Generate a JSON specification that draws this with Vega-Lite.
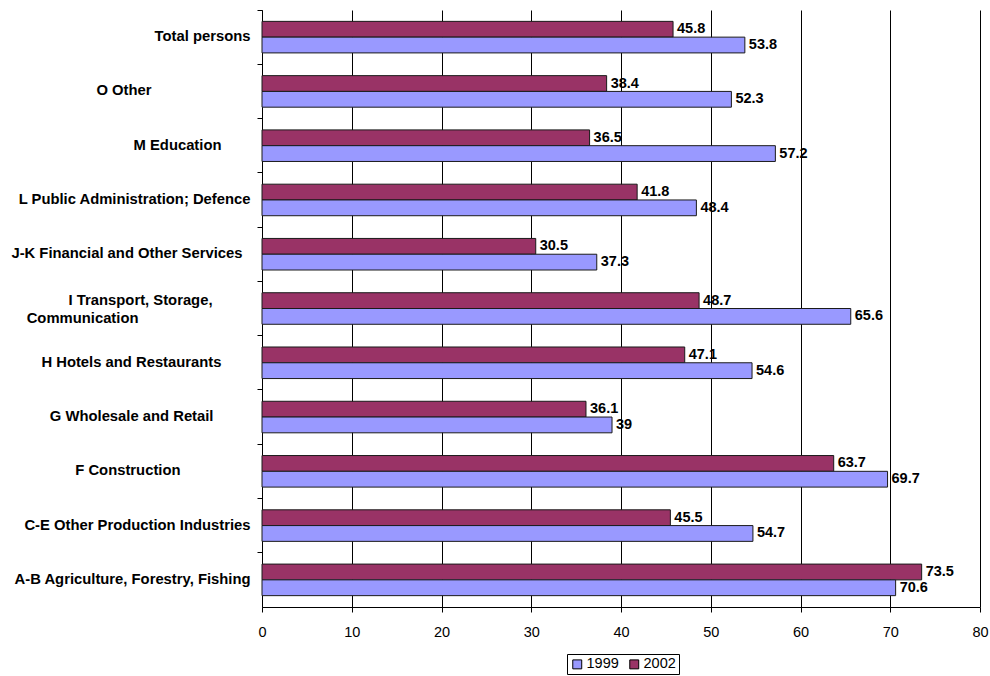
{
  "$schema": "https://vega.github.io/schema/vega-lite/v6.json",
  "width": 718,
  "height": 597,
  "autosize": {"type": "none"},
  "padding": {"left": 262, "top": 10, "right": 10, "bottom": 69},
  "background": "white",
  "config": {
    "view": {"stroke": null},
    "font": "Liberation Sans",
    "axis": {"domainColor": "black", "tickColor": "black", "labelColor": "black", "gridColor": "black", "gridOpacity": 1, "titleColor": "black"}
  },
  "data": {
    "values": [
      {"category": "Total persons", "year": "2002", "value": 45.8},
      {"category": "Total persons", "year": "1999", "value": 53.8},
      {"category": "O Other", "year": "2002", "value": 38.4},
      {"category": "O Other", "year": "1999", "value": 52.3},
      {"category": "M Education", "year": "2002", "value": 36.5},
      {"category": "M Education", "year": "1999", "value": 57.2},
      {"category": "L Public Administration; Defence", "year": "2002", "value": 41.8},
      {"category": "L Public Administration; Defence", "year": "1999", "value": 48.4},
      {"category": "J-K Financial and Other Services", "year": "2002", "value": 30.5},
      {"category": "J-K Financial and Other Services", "year": "1999", "value": 37.3},
      {"category": "I Transport, Storage, Communication", "year": "2002", "value": 48.7},
      {"category": "I Transport, Storage, Communication", "year": "1999", "value": 65.6},
      {"category": "H Hotels and Restaurants", "year": "2002", "value": 47.1},
      {"category": "H Hotels and Restaurants", "year": "1999", "value": 54.6},
      {"category": "G Wholesale and Retail", "year": "2002", "value": 36.1},
      {"category": "G Wholesale and Retail", "year": "1999", "value": 39},
      {"category": "F Construction", "year": "2002", "value": 63.7},
      {"category": "F Construction", "year": "1999", "value": 69.7},
      {"category": "C-E Other Production Industries", "year": "2002", "value": 45.5},
      {"category": "C-E Other Production Industries", "year": "1999", "value": 54.7},
      {"category": "A-B Agriculture, Forestry, Fishing", "year": "2002", "value": 73.5},
      {"category": "A-B Agriculture, Forestry, Fishing", "year": "1999", "value": 70.6}
    ]
  },
  "encoding": {
    "y": {
      "field": "category",
      "type": "nominal",
      "sort": null,
      "title": null,
      "scale": {"paddingInner": 0, "paddingOuter": 0},
      "axis": {
        "bandPosition": 0,
        "tickSize": 5,
        "labelFontSize": 14.8,
        "labelFontWeight": "bold",
        "labelLimit": 0,
        "labelLineHeight": 18,
        "labelExpr": "datum.label == 'I Transport, Storage, Communication' ? ['I Transport, Storage,', 'Communication\u00a0\u00a0\u00a0\u00a0\u00a0\u00a0\u00a0\u00a0\u00a0\u00a0\u00a0\u00a0\u00a0\u00a0\u00a0\u00a0\u00a0\u00a0\u200b'] : datum.label",
        "labelOffset": {
          "condition": {"test": "datum.value == 'I Transport, Storage, Communication'", "value": -8},
          "value": 0
        },
        "labelPadding": {
          "condition": [
            {"test": "datum.value == 'O Other'", "value": 106},
            {"test": "datum.value == 'M Education'", "value": 36},
            {"test": "datum.value == 'J-K Financial and Other Services'", "value": 15},
            {"test": "datum.value == 'I Transport, Storage, Communication'", "value": 45},
            {"test": "datum.value == 'H Hotels and Restaurants'", "value": 36},
            {"test": "datum.value == 'G Wholesale and Retail'", "value": 44},
            {"test": "datum.value == 'F Construction'", "value": 77}
          ],
          "value": 7
        }
      }
    },
    "yOffset": {
      "field": "year",
      "type": "nominal",
      "sort": ["2002", "1999"],
      "scale": {"paddingInner": 0, "paddingOuter": 0.72}
    },
    "x": {
      "field": "value",
      "type": "quantitative",
      "title": null,
      "scale": {"domain": [0, 80], "nice": false, "zero": true},
      "axis": {
        "values": [0, 10, 20, 30, 40, 50, 60, 70, 80],
        "grid": true,
        "tickSize": 5,
        "labelFontSize": 14.5,
        "labelPadding": 13,
        "labelFlush": false,
        "labelOverlap": false
      }
    }
  },
  "layer": [
    {
      "mark": {"type": "bar", "stroke": "#1a1a1a", "strokeWidth": 1},
      "encoding": {
        "color": {
          "field": "year",
          "type": "nominal",
          "scale": {"domain": ["1999", "2002"], "range": ["#9999FF", "#993366"]},
          "legend": {
            "title": null,
            "orient": "none",
            "legendX": 305,
            "legendY": 644,
            "direction": "horizontal",
            "symbolType": "square",
            "symbolSize": 80,
            "symbolStrokeColor": "black",
            "symbolStrokeWidth": 1,
            "symbolOpacity": 1,
            "labelFontSize": 14.5,
            "labelColor": "black",
            "labelOffset": 2,
            "columnPadding": 8,
            "padding": 3,
            "strokeColor": "black",
            "fillColor": "white"
          }
        }
      }
    },
    {
      "mark": {"type": "text", "align": "left", "baseline": "middle", "dx": 4, "fontSize": 14.5, "fontWeight": "bold", "color": "black"},
      "encoding": {
        "text": {"field": "value", "type": "quantitative"}
      }
    }
  ]
}
